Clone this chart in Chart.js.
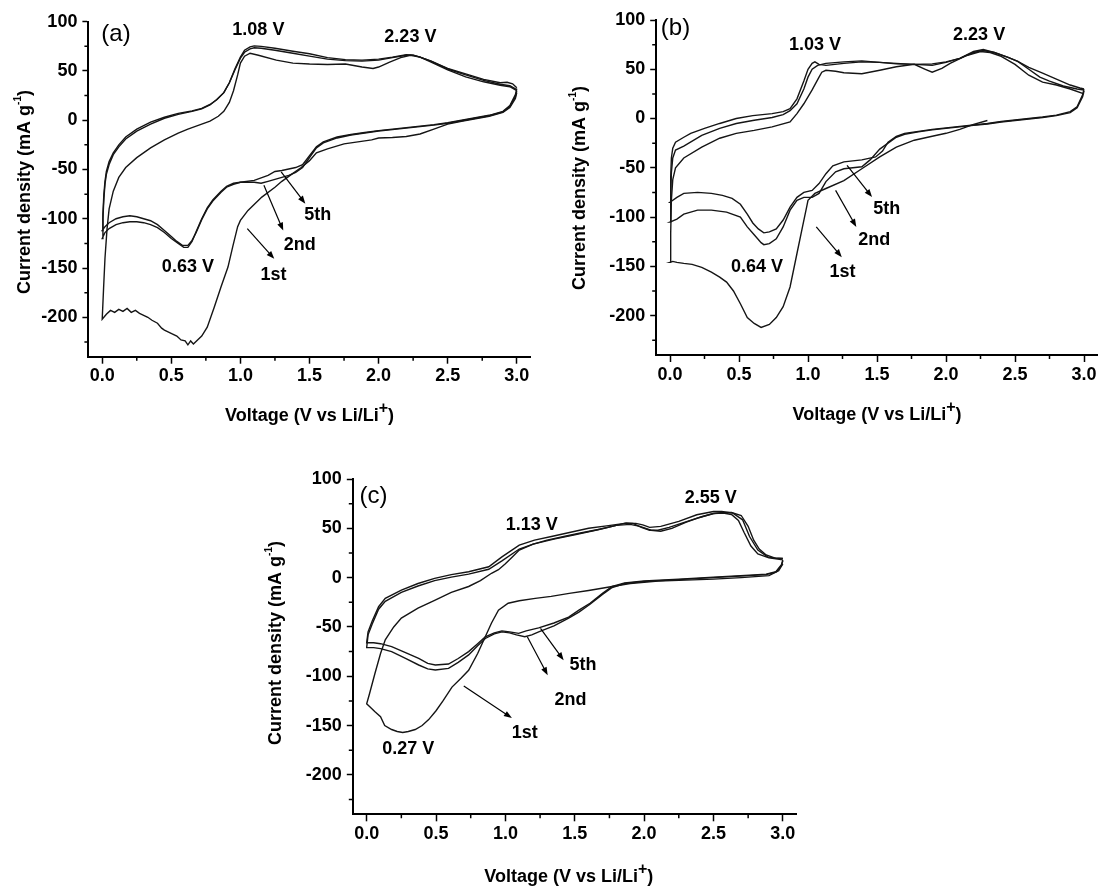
<!DOCTYPE html>
<html>
<head>
<meta charset="utf-8">
<title>CV curves</title>
<script src="https://cdn.jsdelivr.net/npm/chart.js@4.4.1/dist/chart.umd.min.js"></script>
<style>
  html, body { margin: 0; padding: 0; background: #fff; overflow: hidden; }
  #wrap { position: relative; width: 1099px; height: 886px; }
  .panel { position: absolute; }
</style>
</head>
<body>
<div id="wrap">
  <div class="panel" style="left:0;top:0;width:545px;height:440px"><canvas id="ca"></canvas></div>
  <div class="panel" style="left:545px;top:0;width:554px;height:440px"><canvas id="cb"></canvas></div>
  <div class="panel" style="left:260px;top:440px;width:545px;height:446px"><canvas id="cc"></canvas></div>
</div>
<script>
// axis ticks
const xTicks = [0, 0.5, 1.0, 1.5, 2.0, 2.5, 3.0];
const yTicks = [-200, -150, -100, -50, 0, 50, 100];
const xMinor = [0.25, 0.75, 1.25, 1.75, 2.25, 2.75];
const yMinor = [-225, -175, -125, -75, -25, 25, 75];

// [voltage (V), current density (mA/g)] along the scan: cathodic 3.0 -> 0, then anodic 0 -> 3.0
// panel (a)
const a1st = [
  [3.0,28],[2.99,22],[2.95,13],[2.9,8],[2.8,4],[2.7,1.5],[2.6,-1],[2.5,-4],[2.4,-9],[2.3,-14],[2.2,-16.5],[2.1,-17.5],
  [2.0,-18],[1.95,-20],[1.85,-22],[1.75,-24],[1.63,-29],[1.55,-33],[1.5,-41],[1.44,-48],[1.38,-54],[1.3,-62],[1.25,-68],
  [1.155,-78],[1.055,-91.5],[1.0,-101.7],[0.98,-108],[0.945,-128],[0.91,-149],[0.86,-169],[0.81,-190],[0.76,-210],
  [0.72,-219],[0.69,-223],[0.66,-227],[0.64,-224],[0.62,-228],[0.6,-224],[0.57,-223],[0.54,-219],[0.51,-217],[0.48,-215],
  [0.45,-213],[0.43,-211],[0.4,-206],[0.36,-203],[0.33,-200],[0.3,-198],[0.27,-196],[0.24,-193],[0.21,-195],[0.18,-191],
  [0.15,-194],[0.12,-192],[0.09,-195],[0.06,-193],[0.03,-197],[0.0,-202],
  [0.01,-170],[0.02,-140],[0.035,-110],[0.05,-90],[0.08,-72],[0.12,-58],[0.17,-48],[0.25,-38],[0.35,-28],[0.45,-20],
  [0.55,-13],[0.62,-9],[0.7,-5],[0.78,-1],[0.84,4],[0.88,9],[0.92,18],[0.95,30],[0.98,46],[1.0,58],[1.03,65],[1.07,68],
  [1.13,66],[1.26,61],[1.38,58],[1.5,57],[1.63,56.5],[1.76,57],[1.88,54],[1.96,52.5],[2.0,54],[2.08,59],[2.16,63.5],
  [2.23,66],[2.3,64],[2.38,59],[2.5,51],[2.63,44],[2.76,39],[2.88,35.5],[2.95,34],[3.0,30]
];
const a2nd = [
  [3.0,30],[2.99,24],[2.95,14],[2.9,8.5],[2.8,4.5],[2.7,2],[2.6,-0.5],[2.5,-3],[2.4,-5],[2.3,-6.5],[2.2,-8],[2.1,-9.5],
  [2.0,-11],[1.9,-13],[1.8,-15],[1.7,-18],[1.6,-23],[1.55,-28],[1.5,-38],[1.45,-48],[1.4,-53],[1.35,-56],[1.3,-58],
  [1.2,-62],[1.15,-64],[1.1,-63],[1.0,-63],[0.95,-64],[0.9,-67],[0.86,-72],[0.8,-81],[0.76,-89],[0.72,-100],[0.68,-113],
  [0.65,-123],[0.62,-129],[0.59,-129],[0.55,-125],[0.5,-120],[0.45,-114],[0.4,-109],[0.35,-106],[0.3,-104],[0.25,-103],
  [0.2,-103],[0.15,-104],[0.1,-106],[0.05,-110],[0.02,-114],[0.0,-120],
  [0.005,-100],[0.012,-80],[0.02,-65],[0.03,-55],[0.05,-45],[0.08,-35],[0.12,-27],[0.17,-19],[0.25,-11],[0.35,-4],
  [0.45,2],[0.55,6],[0.65,9],[0.72,11.5],[0.78,15.5],[0.83,21],[0.88,28],[0.92,38],[0.96,51],[1.0,63],[1.03,69],
  [1.07,72.5],[1.1,73.5],[1.15,73],[1.25,71],[1.38,68],[1.5,65],[1.63,62],[1.76,60.5],[1.88,60],[2.0,61],[2.1,63.5],
  [2.2,66],[2.25,66],[2.3,64],[2.38,60],[2.5,52],[2.63,46],[2.76,40.5],[2.88,36.5],[2.95,35],[3.0,31]
];
const a5th = [
  [3.0,32],[2.99,26],[2.95,15],[2.9,9],[2.8,5],[2.7,2.5],[2.6,0],[2.5,-2.5],[2.4,-4.5],[2.3,-6],[2.2,-7.5],[2.1,-9],
  [2.0,-10.5],[1.9,-12.5],[1.8,-14.5],[1.7,-17],[1.6,-22],[1.55,-27],[1.5,-36],[1.45,-45],[1.4,-48],[1.3,-51],
  [1.25,-52],[1.2,-56],[1.1,-61],[1.0,-63],[0.95,-65],[0.9,-68],[0.86,-73],[0.8,-82],[0.76,-90],[0.72,-101],[0.68,-114],
  [0.65,-122],[0.62,-127],[0.58,-127],[0.54,-123],[0.5,-118],[0.45,-112],[0.4,-106],[0.35,-102],[0.3,-100],[0.25,-98],
  [0.2,-97],[0.15,-98],[0.1,-100],[0.05,-104],[0.02,-108],[0.0,-112],
  [0.005,-95],[0.012,-75],[0.02,-62],[0.03,-52],[0.05,-42],[0.08,-33],[0.12,-25],[0.17,-17],[0.25,-9],[0.35,-2],
  [0.45,3],[0.55,7],[0.65,9.5],[0.72,12],[0.78,16],[0.83,21],[0.88,28],[0.92,38],[0.96,52],[1.0,64],[1.03,71],
  [1.07,74.5],[1.1,75.5],[1.15,75],[1.25,73],[1.38,70],[1.5,67.5],[1.63,63.5],[1.76,61.5],[1.88,61],[2.0,62],[2.1,64],
  [2.2,66.5],[2.25,66],[2.3,64],[2.38,60],[2.5,52.5],[2.63,47],[2.76,41.5],[2.88,38],[2.93,38.5],[2.97,37],[3.0,33]
];

// panel (b)
const b1st = [
  [2.3,-2],[2.2,-6],[2.1,-11],[2.0,-15],[1.9,-18],[1.77,-22],[1.64,-29],[1.52,-39],[1.39,-51],[1.26,-63],[1.13,-71],
  [1.05,-76],[1.0,-83],[0.99,-90],[0.96,-110],[0.92,-137],[0.87,-171],[0.82,-191],[0.77,-202],[0.72,-209],[0.66,-212],
  [0.61,-208],[0.56,-202],[0.51,-188],[0.46,-175],[0.41,-166],[0.36,-161],[0.3,-156],[0.23,-151],[0.16,-148],[0.1,-147],
  [0.05,-146],[0.02,-145],[0.0,-146],
  [0.005,-117],[0.01,-83],[0.02,-62],[0.04,-50],[0.1,-40],[0.23,-29],[0.36,-20],[0.48,-15],[0.61,-12],[0.74,-8.5],
  [0.87,-3.4],[0.92,5],[0.97,15],[1.03,29],[1.08,42],[1.1,47],[1.13,49],[1.2,48],[1.26,46.5],[1.39,45.5],[1.52,49],
  [1.64,52.5],[1.77,55],[1.85,50],[1.9,47],[1.97,51],[2.03,56],[2.15,64],[2.25,68],[2.32,67],[2.4,63],[2.5,55],
  [2.6,44],[2.7,37],[2.8,34],[2.9,30],[3.0,25]
];
const b2nd = [
  [3.0,28],[2.99,22],[2.95,11],[2.9,6],[2.8,3],[2.7,1],[2.6,-0.5],[2.5,-2],[2.4,-3.5],[2.3,-5.5],[2.2,-7],[2.1,-8.5],
  [2.0,-10],[1.9,-11.5],[1.8,-13.5],[1.7,-16],[1.64,-19],[1.58,-25],[1.52,-31],[1.45,-42],[1.39,-49],[1.26,-51],
  [1.2,-54],[1.13,-64],[1.08,-76],[1.03,-80],[0.97,-80],[0.92,-83],[0.87,-93],[0.82,-110],[0.77,-122],[0.72,-127],
  [0.68,-128],[0.66,-126],[0.61,-118],[0.56,-110],[0.51,-100],[0.41,-95],[0.3,-93],[0.2,-93],[0.1,-97],[0.05,-102],
  [0.0,-105],
  [0.005,-80],[0.01,-55],[0.02,-40],[0.04,-32],[0.1,-28],[0.23,-17],[0.36,-10],[0.48,-5],[0.61,-1.7],[0.74,1],
  [0.82,4],[0.87,8],[0.92,15],[0.97,30],[1.0,42],[1.03,50],[1.07,54],[1.13,56],[1.26,57.5],[1.39,58.5],[1.52,57],
  [1.64,55.5],[1.77,55],[1.9,54],[2.0,57],[2.1,61],[2.2,67],[2.27,69],[2.35,67],[2.45,62],[2.52,58],[2.6,50],
  [2.68,42],[2.75,38],[2.85,33],[2.95,30],[3.0,29]
];
const b5th = [
  [3.0,30],[2.99,24],[2.95,12],[2.9,7],[2.8,3.5],[2.7,1.5],[2.6,0],[2.5,-1.5],[2.4,-3],[2.3,-5],[2.2,-6.5],[2.1,-8],
  [2.0,-9.5],[1.9,-11],[1.8,-13],[1.7,-15],[1.64,-18],[1.58,-24],[1.54,-33],[1.49,-39],[1.39,-42],[1.26,-44],
  [1.18,-48],[1.13,-56],[1.08,-66],[1.03,-73],[0.97,-75],[0.92,-80],[0.87,-90],[0.82,-103],[0.77,-112],[0.72,-115],
  [0.68,-116],[0.64,-112],[0.6,-106],[0.56,-97],[0.51,-87],[0.45,-81],[0.38,-78],[0.3,-76],[0.2,-75],[0.1,-76],
  [0.05,-80],[0.0,-85],
  [0.005,-60],[0.01,-40],[0.02,-30],[0.04,-24],[0.1,-19],[0.15,-15],[0.25,-10],[0.36,-5],[0.48,0],[0.6,3],[0.74,5],
  [0.82,7],[0.87,10],[0.92,20],[0.97,38],[1.0,50],[1.03,56],[1.05,57.5],[1.08,55],[1.13,54],[1.26,56],[1.39,57.5],
  [1.52,57],[1.64,56],[1.77,55],[1.9,55.5],[2.0,57.5],[2.1,61],[2.2,68],[2.27,70],[2.35,67],[2.45,62],[2.52,58],
  [2.6,52],[2.7,46],[2.8,40],[2.9,34],[2.97,31],[3.0,30]
];

// panel (c)
const c1st = [
  [3.0,14],[2.97,7],[2.9,2],[2.7,0],[2.5,-1.5],[2.3,-2.5],[2.1,-3.5],[1.9,-6],[1.77,-9],[1.6,-13],[1.46,-16],
  [1.33,-19],[1.215,-21],[1.1,-23.5],[1.02,-26],[0.95,-33],[0.9,-46],[0.855,-60],[0.8,-77],[0.735,-94],[0.68,-102],
  [0.615,-111],[0.55,-125],[0.5,-135],[0.447,-144],[0.4,-150],[0.35,-154],[0.3,-156],[0.26,-157],[0.22,-156],
  [0.18,-154],[0.13,-150],[0.1,-141],[0.06,-136],[0.03,-132],[0.0,-128],
  [0.02,-118],[0.06,-97],[0.1,-77],[0.134,-63],[0.195,-50],[0.25,-41],[0.37,-31],[0.49,-23],[0.61,-15],[0.735,-9],
  [0.82,-3],[0.9,4.4],[0.95,8],[1.0,14],[1.05,21],[1.1,28],[1.2,34],[1.35,39],[1.5,43.5],[1.65,48],[1.8,53],[1.9,54],
  [1.97,52],[2.05,48],[2.12,47],[2.2,50],[2.3,56],[2.4,61],[2.5,65],[2.57,65.5],[2.63,64],[2.68,58],[2.72,46],
  [2.77,32],[2.82,24],[2.9,20],[3.0,18]
];
const c2nd = [
  [3.0,17],[2.99,12],[2.95,5.5],[2.88,3],[2.76,2],[2.5,0],[2.25,-2],[2.0,-4],[1.86,-6],[1.77,-10],[1.7,-17],
  [1.61,-27],[1.53,-35],[1.456,-41],[1.35,-49],[1.24,-55],[1.19,-58],[1.14,-60],[1.08,-58],[1.03,-56],[0.975,-55],
  [0.92,-57],[0.855,-61.7],[0.8,-69],[0.735,-78.4],[0.66,-86],[0.59,-92],[0.495,-93.7],[0.44,-92.5],[0.375,-88.6],
  [0.28,-82],[0.18,-75],[0.1,-72],[0.05,-71],[0.0,-71],
  [0.01,-58],[0.04,-47],[0.086,-32],[0.134,-24],[0.25,-15],[0.37,-8.5],[0.49,-3],[0.61,0.5],[0.735,3.5],[0.88,8.5],
  [0.975,17],[1.1,29],[1.2,34],[1.3,38],[1.43,42],[1.55,45.5],[1.68,49],[1.8,53],[1.87,55.5],[1.92,55],[1.98,51],
  [2.04,48],[2.1,48],[2.18,51],[2.3,56.5],[2.42,62],[2.5,65],[2.57,66],[2.63,66],[2.7,63],[2.75,52],[2.79,38],
  [2.83,29],[2.88,23],[2.94,20],[3.0,19.5]
];
const c5th = [
  [3.0,18],[2.99,13],[2.95,6],[2.88,3.5],[2.76,2.5],[2.5,0.5],[2.25,-1.5],[2.0,-3.5],[1.86,-5.5],[1.77,-9],[1.7,-16],
  [1.61,-26],[1.53,-33],[1.456,-40],[1.35,-46],[1.24,-51],[1.15,-54],[1.096,-56.5],[1.03,-55],[0.975,-54],[0.92,-56],
  [0.855,-60],[0.8,-67],[0.735,-75],[0.66,-82],[0.59,-87.6],[0.495,-88.6],[0.44,-87],[0.375,-82],[0.28,-76],
  [0.18,-70],[0.1,-67],[0.05,-66],[0.0,-66],
  [0.01,-55],[0.04,-44],[0.086,-29.5],[0.134,-21],[0.25,-12.6],[0.37,-6],[0.49,-0.7],[0.61,3],[0.735,6],[0.88,11],
  [0.975,21],[1.1,33],[1.21,38],[1.34,42],[1.47,46],[1.6,50],[1.73,52.5],[1.86,55],[1.94,55],[1.99,53.5],[2.04,51],
  [2.12,52],[2.25,57],[2.38,63.7],[2.5,67],[2.56,67],[2.64,65.4],[2.71,58.6],[2.76,41.7],[2.82,28],[2.89,21],
  [2.95,19.7],[3.0,19.5]
];

// annotations, in data units
const notesA = [
  { t: '(a)', v: 0.1, i: 87.5, big: true },
  { t: '1.08 V', v: 1.13, i: 92 }, { t: '2.23 V', v: 2.23, i: 84.7 }, { t: '0.63 V', v: 0.62, i: -149 },
  { t: '5th', v: 1.56, i: -96.6 }, { t: '2nd', v: 1.43, i: -127 }, { t: '1st', v: 1.24, i: -157.6 }
];
const arrowsA = [[[1.295, -52.5], [1.47, -84.7]], [[1.17, -66], [1.31, -112]], [[1.05, -110], [1.245, -140.7]]];
const notesB = [
  { t: '(b)', v: 0.04, i: 91.5, big: true },
  { t: '1.03 V', v: 1.05, i: 74.6 }, { t: '2.23 V', v: 2.24, i: 84.7 }, { t: '0.64 V', v: 0.63, i: -151 },
  { t: '5th', v: 1.57, i: -91.5 }, { t: '2nd', v: 1.48, i: -123.7 }, { t: '1st', v: 1.25, i: -156 }
];
const arrowsB = [[[1.283, -47.5], [1.464, -79.7]], [[1.2, -72.9], [1.35, -110]], [[1.06, -110], [1.245, -140.7]]];
const notesC = [
  { t: '(c)', v: 0.05, i: 82, big: true },
  { t: '1.13 V', v: 1.19, i: 53.6 }, { t: '2.55 V', v: 2.48, i: 80.7 }, { t: '0.27 V', v: 0.30, i: -173.6 },
  { t: '5th', v: 1.56, i: -88.8 }, { t: '2nd', v: 1.47, i: -124.4 }, { t: '1st', v: 1.14, i: -158 }
];
const arrowsC = [[[1.253, -51.5], [1.42, -83.7]], [[1.158, -60], [1.305, -99]], [[0.70, -110], [1.047, -142.4]]];

const FAMILY = '"Liberation Sans", Arial, Helvetica, sans-serif';
const boldFont = 'bold 18px ' + FAMILY;
const panelFont = '24px ' + FAMILY;

const xTitleParts = [
  { t: 'Voltage (V vs Li/Li', font: boldFont, dy: 0 },
  { t: '+', font: 'bold 16px ' + FAMILY, dy: -7 },
  { t: ')', font: boldFont, dy: 0 }
];
const yTitleParts = [
  { t: 'Current density (mA g', font: boldFont, dy: 0 },
  { t: '-1', font: 'bold 10px ' + FAMILY, dy: -7 },
  { t: ')', font: boldFont, dy: 0 }
];

function drawRich(ctx, parts, x, y, rot) {
  ctx.save();
  ctx.translate(x, y);
  ctx.rotate(rot);
  ctx.textAlign = 'left';
  ctx.textBaseline = 'middle';
  let w = 0;
  parts.forEach(p => { ctx.font = p.font; w += ctx.measureText(p.t).width; });
  let cx = -w / 2;
  parts.forEach(p => {
    ctx.font = p.font;
    ctx.fillText(p.t, cx, p.dy);
    cx += ctx.measureText(p.t).width;
  });
  ctx.restore();
}

function drawArrow(ctx, x1, y1, x2, y2) {
  const ang = Math.atan2(y2 - y1, x2 - x1);
  const h = 8, w = 3;
  ctx.beginPath();
  ctx.moveTo(x1, y1);
  ctx.lineTo(x2 - h * 0.7 * Math.cos(ang), y2 - h * 0.7 * Math.sin(ang));
  ctx.stroke();
  ctx.beginPath();
  ctx.moveTo(x2, y2);
  ctx.lineTo(x2 - h * Math.cos(ang) + w * Math.sin(ang), y2 - h * Math.sin(ang) - w * Math.cos(ang));
  ctx.lineTo(x2 - h * Math.cos(ang) - w * Math.sin(ang), y2 - h * Math.sin(ang) + w * Math.cos(ang));
  ctx.closePath();
  ctx.fill();
}

// minor ticks, labels, arrows and axis titles
function makeOverlay(p) {
  return {
    id: 'overlay',
    afterDraw(chart) {
      const { ctx, chartArea: ca } = chart;
      const x = chart.scales.x, y = chart.scales.y;
      ctx.save();
      ctx.strokeStyle = '#000';
      ctx.fillStyle = '#000';
      ctx.lineWidth = 1.5;
      ctx.beginPath();
      xMinor.forEach(v => {
        const px = x.getPixelForValue(v);
        ctx.moveTo(px, ca.bottom);
        ctx.lineTo(px, ca.bottom + 4);
      });
      yMinor.forEach(v => {
        const py = y.getPixelForValue(v);
        ctx.moveTo(ca.left, py);
        ctx.lineTo(ca.left - 4, py);
      });
      ctx.stroke();

      ctx.lineWidth = 1.2;
      p.arrows.forEach(([a, b]) => drawArrow(ctx,
        x.getPixelForValue(a[0]), y.getPixelForValue(a[1]),
        x.getPixelForValue(b[0]), y.getPixelForValue(b[1])));

      ctx.textAlign = 'center';
      ctx.textBaseline = 'middle';
      p.notes.forEach(n => {
        ctx.font = n.big ? panelFont : boldFont;
        ctx.fillText(n.t, x.getPixelForValue(n.v), y.getPixelForValue(n.i));
      });

      drawRich(ctx, xTitleParts, (ca.left + ca.right) / 2 + p.xTitleDx, p.xTitleY, 0);
      drawRich(ctx, yTitleParts, p.yTitleX, p.yTitleY, -Math.PI / 2);
      ctx.restore();
    }
  };
}

const panels = [
  { canvas: 'ca', curves: [a1st, a2nd, a5th], notes: notesA, arrows: arrowsA,
    padTop: 21.7, padRight: 14.4, yWidth: 88.4, xHeight: 83.3, xTitleY: 416, xTitleDx: 0, yTitleX: 25, yTitleY: 192 },
  { canvas: 'cb', curves: [b1st, b2nd, b5th], notes: notesB, arrows: arrowsB,
    padTop: 20, padRight: 1.2, yWidth: 111.2, xHeight: 85, xTitleY: 415, xTitleDx: 0, yTitleX: 35, yTitleY: 188 },
  { canvas: 'cc', curves: [c1st, c2nd, c5th], notes: notesC, arrows: arrowsC,
    padTop: 39, padRight: 8.3, yWidth: 92.8, xHeight: 71.7, xTitleY: 437, xTitleDx: -6, yTitleX: 16, yTitleY: 203 }
];

const tickFont = { family: FAMILY, size: 18, weight: 'bold' };

panels.forEach(p => {
  new Chart(document.getElementById(p.canvas), {
    type: 'scatter',
    data: {
      datasets: p.curves.map(c => ({
        data: c.map(([v, i]) => ({ x: v, y: i })),
        showLine: true,
        borderColor: '#151515',
        borderWidth: 1.4,
        pointRadius: 0,
        tension: 0,
        fill: false
      }))
    },
    options: {
      responsive: true,
      maintainAspectRatio: false,
      animation: false,
      devicePixelRatio: 1,
      layout: { padding: { left: 0, top: p.padTop, right: p.padRight, bottom: 0 } },
      plugins: { legend: { display: false }, tooltip: { enabled: false } },
      scales: {
        x: {
          type: 'linear',
          min: -0.1,
          max: 3.1,
          afterBuildTicks: s => { s.ticks = xTicks.map(v => ({ value: v })); },
          afterFit: s => { s.height = p.xHeight; },
          grid: { drawOnChartArea: false, tickLength: 7, tickColor: '#000', tickWidth: 1.5 },
          border: { color: '#000', width: 2 },
          ticks: { color: '#000', font: tickFont, padding: 2, maxRotation: 0, autoSkip: false,
                   callback: v => Number(v).toFixed(1) }
        },
        y: {
          type: 'linear',
          min: -240,
          max: 100,
          afterBuildTicks: s => { s.ticks = yTicks.map(v => ({ value: v })); },
          afterFit: s => { s.width = p.yWidth; },
          grid: { drawOnChartArea: false, tickLength: 6, tickColor: '#000', tickWidth: 1.5 },
          border: { color: '#000', width: 2 },
          ticks: { color: '#000', font: tickFont, padding: 5, autoSkip: false, callback: v => String(v) }
        }
      }
    },
    plugins: [makeOverlay(p)]
  });
});
</script>
</body>
</html>
